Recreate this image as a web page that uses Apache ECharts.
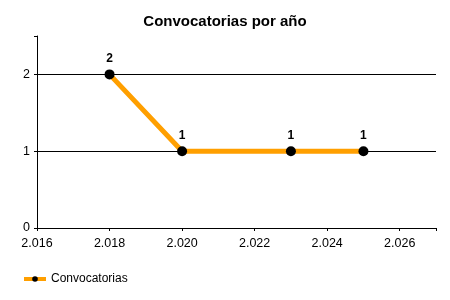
<!DOCTYPE html>
<html><head><meta charset="utf-8">
<script src="https://cdn.jsdelivr.net/npm/echarts@6/dist/echarts.min.js"></script>
<style>html,body{margin:0;padding:0;background:#fff}#c{width:450px;height:300px}</style>
</head><body><div id="c"></div>
<script>
const years = [2018, 2020, 2023, 2025];
const counts = [2, 1, 1, 1];
const gridValues = [1, 2];
const seriesName = 'Convocatorias';
const titleText = 'Convocatorias por año';

const fmtYear = v => { const s = String(Math.round(v)); return s.slice(0, 1) + '.' + s.slice(1); };
const chart = echarts.init(document.getElementById('c'));
chart.setOption({
  animation: false,
  textStyle: { fontFamily: 'Liberation Sans, Arial, sans-serif' },
  title: { text: titleText, left: 'center', top: 9, textStyle: { fontSize: 15, fontWeight: 'bold', color: '#000', fontFamily: 'Liberation Sans, Arial, sans-serif' } },
  legend: { left: 17, top: 268, itemWidth: 22, itemHeight: 7, itemGap: 6,
    textStyle: { fontSize: 12, color: '#000' },
    lineStyle: { width: 4 },
    data: [seriesName] },
  grid: { left: 37, right: 14, top: 36, bottom: 72, containLabel: false },
  xAxis: { type: 'value', min: 2016, max: 2027, interval: 2,
    axisLine: { show: true, lineStyle: { color: '#000', width: 1 } },
    axisTick: { show: true, length: 3, lineStyle: { color: '#000' } },
    splitLine: { show: false },
    axisLabel: { color: '#000', fontSize: 12.5, margin: 9, formatter: v => (v > 2026 ? '' : fmtYear(v)) } },
  yAxis: { type: 'value', min: 0, max: 2.5, interval: 1,
    axisLine: { show: true, lineStyle: { color: '#000', width: 1 } },
    axisTick: { show: true, length: 3, lineStyle: { color: '#000' } },
    splitLine: { show: false },
    axisLabel: { color: '#000', fontSize: 12.5, margin: 7, formatter: v => (v % 1 === 0 ? String(v) : '') } },
  series: [{
    name: '_grid', type: 'line', data: [], z: 1, silent: true,
    markLine: { silent: true, z: 1, symbol: 'none', label: { show: false },
      lineStyle: { color: '#000', width: 1, type: 'solid' },
      data: gridValues.map(v => ({ yAxis: v })) }
  }, {
    name: seriesName, type: 'line', z: 3,
    data: years.map((y, i) => [y, counts[i]]),
    symbol: 'circle', symbolSize: 10,
    lineStyle: { color: '#FF9F00', width: 5 },
    itemStyle: { color: '#000' },
    label: { show: true, position: 'top', distance: 5, color: '#000', fontSize: 12, fontWeight: 'bold', formatter: p => p.value[1] }
  }]
});
</script></body></html>
